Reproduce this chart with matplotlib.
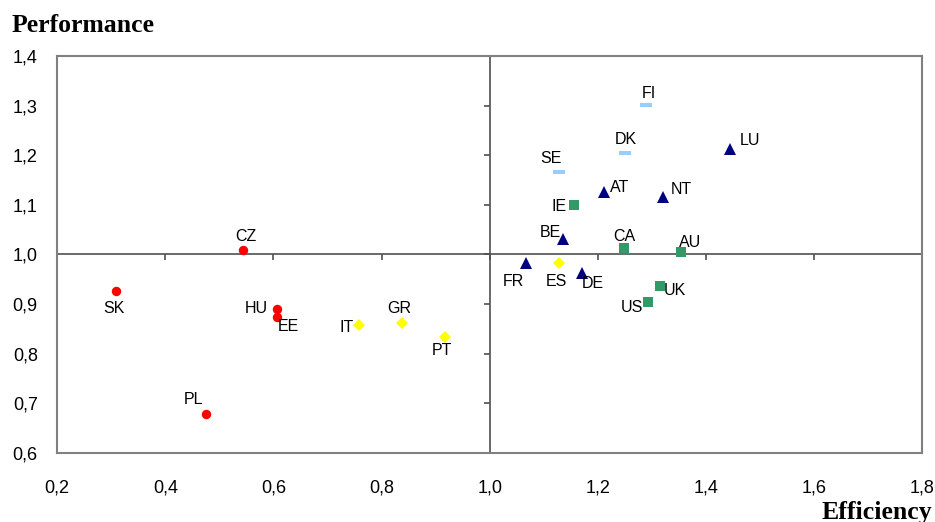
"""Scatter: Efficiency vs Performance by country, quadrant lines at 1,0."""
import matplotlib
matplotlib.use("Agg")
import matplotlib.pyplot as plt
import numpy as np

# --- data ---------------------------------------------------------------
grp_red = ["CZ", "SK", "HU", "EE", "PL"]
red_x = [0.544, 0.308, 0.607, 0.607, 0.475]
red_y = [1.009, 0.927, 0.889, 0.874, 0.678]

grp_yellow = ["IT", "GR", "PT", "ES"]
yellow_x = [0.759, 0.837, 0.917, 1.128]
yellow_y = [0.857, 0.862, 0.834, 0.982]

grp_blue = ["FI", "DK", "SE"]
blue_x = [1.290, 1.251, 1.128]
blue_y = [1.301, 1.205, 1.167]

grp_navy = ["LU", "AT", "NT", "BE", "FR", "DE"]
navy_x = [1.445, 1.211, 1.321, 1.136, 1.067, 1.171]
navy_y = [1.212, 1.125, 1.116, 1.030, 0.982, 0.963]

grp_green = ["IE", "CA", "AU", "UK", "US"]
green_x = [1.156, 1.248, 1.354, 1.315, 1.293]
green_y = [1.100, 1.013, 1.004, 0.937, 0.904]

xticks = [0.2, 0.4, 0.6, 0.8, 1.0, 1.2, 1.4, 1.6, 1.8]
yticks = [0.6, 0.7, 0.8, 0.9, 1.0, 1.1, 1.2, 1.3, 1.4]

# label offsets in pixels (dx right, dy up)
LABEL_OFF = {
    "CZ": (3, 13), "SK": (-2, -18), "HU": (-21, 1), "EE": (11, -10), "PL": (-12, 15),
    "IT": (-13, -2), "GR": (-2, 14), "PT": (-3, -14), "ES": (-2, -18),
    "FI": (2, 12), "DK": (0, 13), "SE": (-8, 13),
    "LU": (20, 9), "AT": (16, 5), "NT": (18, 7), "BE": (-13, 7), "FR": (-13, -18), "DE": (11, -11),
    "IE": (-15, -2), "CA": (1, 11), "AU": (9, 10), "UK": (15, -5), "US": (-16, -6),
}

bar = [(-3, -1), (3, -1), (3, 1), (-3, 1), (-3, -1)]
SERIES = [
    (grp_red, red_x, red_y, dict(marker="o", color="#FF0000", markersize=6.8)),
    (grp_yellow, yellow_x, yellow_y, dict(marker="D", color="#FFFF00", markersize=6.2)),
    (grp_blue, blue_x, blue_y, dict(marker=bar, color="#99CCFF", markersize=9)),
    (grp_navy, navy_x, navy_y, dict(marker="^", color="#000080", markersize=8.5)),
    (grp_green, green_x, green_y, dict(marker="s", color="#339966", markersize=6.5)),
]

fig = plt.figure(figsize=(9.35, 5.22), dpi=100)
ax = fig.add_axes([57.2 / 935, 1 - 452.7 / 522, 865 / 935, 396.7 / 522])
ax.set_xlim(0.2, 1.8); ax.set_ylim(0.6, 1.4)
for s in ax.spines.values():
    s.set_color("#808080"); s.set_linewidth(1.5)
ax.set_xticks(xticks); ax.set_yticks(yticks)
fmt = lambda v: f"{v:.1f}".replace(".", ",")
ax.set_xticklabels([fmt(v) for v in xticks], fontsize=13, family="Liberation Sans")
ax.set_yticklabels([fmt(v) for v in yticks], fontsize=13, family="Liberation Sans")
ax.tick_params(axis="x", length=0, pad=19)
ax.tick_params(axis="y", length=0, pad=14)

# quadrant lines with tick marks
line_c = "#505050"
ax.axhline(1.0, color=line_c, lw=1.2, zorder=1)
ax.axvline(1.0, color=line_c, lw=1.2, zorder=1)
ax.plot(xticks, [1.0] * len(xticks), ls="none", marker=3, markersize=4.5,
        markeredgewidth=1.2, color=line_c, zorder=1)
ax.plot([1.0] * len(yticks), yticks, ls="none", marker=0, markersize=4.5,
        markeredgewidth=1.2, color=line_c, zorder=1)

for names, xs, ys, st in SERIES:
    ax.plot(xs, ys, ls="none", markeredgewidth=0, zorder=3, **st)
    for n, x, y in zip(names, xs, ys):
        ax.annotate(n, (x, y), xytext=LABEL_OFF[n], textcoords="offset pixels",
                    ha="center", va="center", fontsize=11.5, family="Liberation Sans",
                    color="#000000", zorder=4)

fig.text(12 / 935, 1 - 26 / 522, "Performance", ha="left", va="center",
         fontsize=18.5, fontweight="bold", family="Liberation Serif")
fig.text(932 / 935, 1 - 512 / 522, "Efficiency", ha="right", va="center",
         fontsize=18.5, fontweight="bold", family="Liberation Serif")

fig.savefig("out.png", dpi=100)
